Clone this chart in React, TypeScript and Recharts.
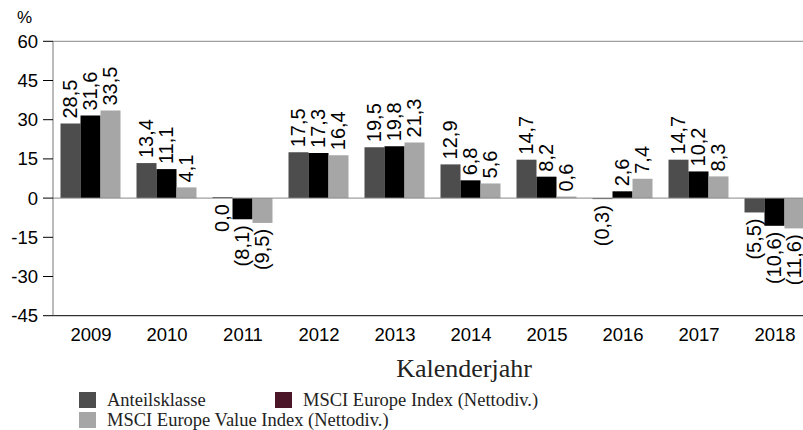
import {
  BarChart,
  Bar,
  XAxis,
  YAxis,
  ReferenceLine,
  LabelList,
} from "recharts";

const years = ["2009", "2010", "2011", "2012", "2013", "2014", "2015", "2016", "2017", "2018"];
const anteilsklasse = [28.5, 13.4, 0.0, 17.5, 19.5, 12.9, 14.7, -0.3, 14.7, -5.5];
const msciEurope = [31.6, 11.1, -8.1, 17.3, 19.8, 6.8, 8.2, 2.6, 10.2, -10.6];
const msciEuropeValue = [33.5, 4.1, -9.5, 16.4, 21.3, 5.6, 0.6, 7.4, 8.3, -11.6];
const yTicks = [-45, -30, -15, 0, 15, 30, 45, 60];

const seriesNames = ["Anteilsklasse", "MSCI Europe Index (Nettodiv.)", "MSCI Europe Value Index (Nettodiv.)"];
const barColors = ["#4d4d4d", "#000000", "#a6a6a6"];
const legendColors = ["#4d4d4d", "#4a1628", "#a6a6a6"];

const data = years.map((year, i) => ({
  year,
  a: anteilsklasse[i],
  b: msciEurope[i],
  c: msciEuropeValue[i],
}));

const sans = "Liberation Sans";
const serif = "Liberation Serif";

function fmt(v: number) {
  const s = Math.abs(v).toFixed(1).replace(".", ",");
  return v < 0 ? `(${s})` : s;
}

function ValueLabel(props: any) {
  const { x, y, width, height, value } = props;
  const v = Number(value);
  const cx = Number(x) + Number(width) / 2;
  const top = Math.min(Number(y), Number(y) + Number(height));
  const bottom = Math.max(Number(y), Number(y) + Number(height));
  const up = v > 0;
  // zero bars are drawn 1px tall, so measure from the baseline
  const ty = up ? top - 5 : (v === 0 ? top + 1 : bottom) + 6;
  return (
    <text
      x={cx}
      y={ty}
      transform={`rotate(-90, ${cx}, ${ty})`}
      textAnchor={up ? "start" : "end"}
      dominantBaseline="central"
      fontSize={20}
      fontFamily={sans}
      fill="#000"
    >
      {fmt(v)}
    </text>
  );
}

export default function App() {
  const keys = ["a", "b", "c"];
  // legend positions: two on the first row, one on the second
  const legendPos = [
    { x: 79, y: 392 },
    { x: 275, y: 392 },
    { x: 79, y: 412 },
  ];

  return (
    <div
      style={{
        position: "fixed",
        left: 0,
        top: 0,
        width: 803,
        height: 430,
        overflow: "hidden",
        background: "#fff",
      }}
    >
      <BarChart
        width={823}
        height={430}
        data={data}
        margin={{ top: 41.3, right: 10, left: 0, bottom: 84.3 }}
        barCategoryGap={7.5}
        barGap={0}
      >
        <XAxis
          dataKey="year"
          height={30}
          axisLine={{ stroke: "#000" }}
          tickLine={false}
          tickMargin={6}
          tick={{ fontSize: 18.5, fill: "#000", fontFamily: sans }}
          interval={0}
        />
        <YAxis
          width={53}
          domain={[-45, 60]}
          ticks={yTicks}
          interval={0}
          axisLine={{ stroke: "#777" }}
          tickLine={{ stroke: "#000" }}
          tickSize={10}
          tickMargin={5}
          tick={{ fontSize: 18.5, fill: "#000", fontFamily: sans }}
          label={() => (
            <text x={17} y={23} fontSize={17} fontFamily={sans} fill="#000">
              %
            </text>
          )}
        />
        <ReferenceLine y={60} stroke="#888" />
        <ReferenceLine y={0} stroke="#888" />
        {keys.map((k, i) => (
          <Bar
            key={k}
            dataKey={k}
            name={seriesNames[i]}
            fill={barColors[i]}
            minPointSize={1}
            isAnimationActive={false}
          >
            <LabelList dataKey={k} content={ValueLabel} />
          </Bar>
        ))}
      </BarChart>
      <svg
        width={803}
        height={430}
        style={{ position: "absolute", left: 0, top: 0, pointerEvents: "none" }}
      >
        <text x={464} y={377} textAnchor="middle" fontSize={26} fontFamily={serif} fill="#222">
          Kalenderjahr
        </text>
        {seriesNames.map((name, i) => (
          <g key={name}>
            <rect x={legendPos[i].x} y={legendPos[i].y} width={17} height={16} fill={legendColors[i]} />
            <text
              x={legendPos[i].x + 28}
              y={legendPos[i].y + 14}
              fontSize={18.5}
              fontFamily={serif}
              fill="#222"
            >
              {name}
            </text>
          </g>
        ))}
      </svg>
    </div>
  );
}
